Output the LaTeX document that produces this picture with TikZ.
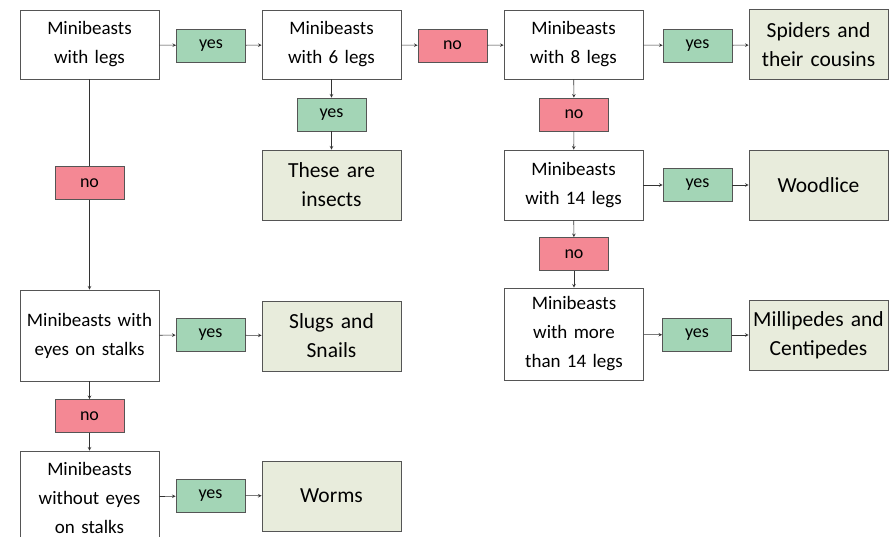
\documentclass[tikz,border=0pt]{standalone}
\usepackage{fontspec}
\setmainfont{Carlito}
\usepackage{tikz}

\definecolor{yesgreen}{RGB}{163,213,182}
\definecolor{nored}{RGB}{244,136,148}
\definecolor{resultfill}{RGB}{232,236,220}
\definecolor{boxline}{RGB}{85,85,85}

\tikzset{
	question/.style={draw=boxline, fill=white, line width=0.8pt, minimum width=139pt, minimum height=69pt, inner sep=0pt, text width=135pt, align=center, font=\fontsize{19}{29}\selectfont},
	result/.style={question, fill=resultfill, minimum height=70pt, font=\fontsize{21.5}{29}\selectfont},
	yesbox/.style={draw=boxline, fill=yesgreen, line width=0.8pt, minimum width=69pt, minimum height=33pt, inner sep=0pt, font=\fontsize{18}{20}\selectfont},
	nobox/.style={yesbox, fill=nored},
	link/.style={draw=black!80, line width=0.6pt}
}

\begin{document}
\begin{tikzpicture}[x=1pt, y=-1pt, >=stealth]
	\useasboundingbox (0,0) rectangle (890,537);
% draw question boxes
	\node[question] (legs) at (89.5,44.5) {Minibeasts\\with legs};
	\node[question] (six) at (331.5,44.5) {Minibeasts\\with 6 legs};
	\node[question] (eight) at (573.5,44.5) {Minibeasts\\with 8 legs};
	\node[question, minimum height=70pt] (fourteen) at (573.5,185) {Minibeasts\\with 14 legs};
	\node[question, minimum height=92pt] (more) at (574,334) {Minibeasts\\with more\\than 14 legs};
	\node[question, minimum height=91pt] (eyes) at (89.5,335.5) {Minibeasts with\\eyes on stalks};
	\node[question, minimum height=94pt] (without) at (89.5,498) {Minibeasts\\without eyes\\on stalks};
% draw answer boxes
	\node[result] (insects) at (331.5,185) {These are\\insects};
	\node[result] (spiders) at (818.5,44.5) {Spiders and\\their cousins};
	\node[result] (woodlice) at (818.5,185) {Woodlice};
	\node[result] (milli) at (818.5,335) {Millipedes and\\Centipedes};
	\node[result] (slugs) at (331.5,336) {Slugs and\\Snails};
	\node[result] (worms) at (331.5,496) {Worms};
% draw yes / no labels
	\node[yesbox] (yesA) at (211,45.5) {yes};
	\node[yesbox] (yesB) at (331.5,114.5) {yes};
	\node[yesbox] (yesC) at (697.5,45.5) {yes};
	\node[yesbox] (yesD) at (697.5,185) {yes};
	\node[yesbox] (yesE) at (697,335) {yes};
	\node[yesbox] (yesF) at (210.5,335) {yes};
	\node[yesbox] (yesG) at (210.5,495.5) {yes};
	\node[nobox] (noA) at (452.5,45.5) {no};
	\node[nobox] (noB) at (574,114.5) {no};
	\node[nobox] (noC) at (574,254) {no};
	\node[nobox] (noD) at (89.5,183) {no};
	\node[nobox] (noE) at (89.5,416) {no};
% draw connectors
	\draw[link, ->] (legs) -- (yesA);
	\draw[link, ->] (yesA) -- (six);
	\draw[link, ->] (six) -- (noA);
	\draw[link, ->] (noA) -- (eight);
	\draw[link, ->] (eight) -- (yesC);
	\draw[link, ->] (yesC) -- (spiders);
	\draw[link, ->] (six) -- (yesB);
	\draw[link, ->] (yesB) -- (insects);
	\draw[link, ->] (eight) -- (noB);
	\draw[link, ->] (noB) -- (fourteen);
	\draw[link, ->] (fourteen) -- (yesD);
	\draw[link, ->] (yesD) -- (woodlice);
	\draw[link, ->] (fourteen) -- (noC);
	\draw[link, ->] (noC) -- (more);
	\draw[link, ->] (more) -- (yesE);
	\draw[link, ->] (yesE) -- (milli);
	\draw[link] (legs) -- (noD);
	\draw[link, ->] (noD) -- (eyes);
	\draw[link, ->] (eyes) -- (yesF);
	\draw[link, ->] (yesF) -- (slugs);
	\draw[link, ->] (eyes) -- (noE);
	\draw[link, ->] (noE) -- (without);
	\draw[link, ->] (without) -- (yesG);
	\draw[link, ->] (yesG) -- (worms);
\end{tikzpicture}
\end{document}
